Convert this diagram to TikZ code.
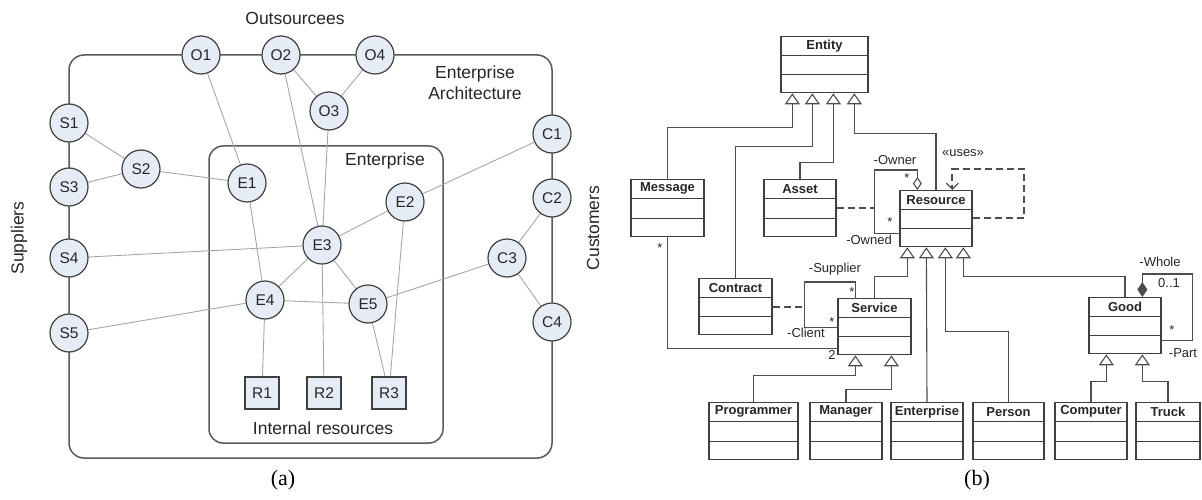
\documentclass[tikz,border=0pt]{standalone}
\usepackage{fontspec}
\setmainfont{Liberation Sans}
\newfontfamily\capfont{Liberation Serif}
\usetikzlibrary{arrows.meta,calc,backgrounds}
\definecolor{nodefill}{HTML}{E5ECF6}
\definecolor{nodeborder}{HTML}{3F3F3F}
\definecolor{framecol}{HTML}{595959}
\definecolor{linkcol}{HTML}{A6A6A6}
\definecolor{umlline}{HTML}{4D4D4D}
\definecolor{clsborder}{HTML}{404040}
\definecolor{textcol}{HTML}{262626}
\tikzset{
  ent/.style={circle, draw=nodeborder, fill=nodefill, line width=1.2pt, minimum size=38pt, inner sep=0pt, text=textcol, font=\fontsize{15.5}{16}\selectfont},
  resbox/.style={rectangle, draw=nodeborder, fill=nodefill, line width=1.2pt, minimum width=34pt, minimum height=32pt, inner sep=0pt, text=textcol, font=\fontsize{15.5}{16}\selectfont},
  frame/.style={draw=framecol, line width=1.5pt, rounded corners=15pt},
  link/.style={draw=linkcol, line width=0.9pt},
  biglabel/.style={font=\fontsize{17.5}{21}\selectfont, text=textcol, align=center, inner sep=0pt},
  cls/.style={draw=clsborder, line width=1.3pt, fill=white, inner sep=0pt},
  clstitle/.style={font=\bfseries\fontsize{13}{14}\selectfont, text=textcol, inner sep=0pt},
  compline/.style={draw=clsborder, line width=1.1pt},
  uline/.style={draw=umlline, line width=1.1pt},
  gen/.style={uline, -{Triangle[open, length=11pt, width=15pt, line width=1.1pt]}},
  dep/.style={draw=umlline, line width=2pt, dash pattern=on 7pt off 4pt},
  role/.style={font=\fontsize{13}{14}\selectfont, text=textcol, inner sep=0pt},
  caplabel/.style={font=\capfont\fontsize{22}{24}\selectfont, text=black, inner sep=0pt}
}
\newcommand\umlclass[6]{%
  \node[cls, minimum width=#4pt, minimum height=#5pt, anchor=north] (#1) at (#2,#3) {};
  \node[clstitle] at ($(#1.north)+(0,9.8)$) {#6};
  \draw[compline] ($(#1.north west)!0.34!(#1.south west)$) -- ($(#1.north east)!0.34!(#1.south east)$);
  \draw[compline] ($(#1.north west)!0.67!(#1.south west)$) -- ($(#1.north east)!0.67!(#1.south east)$);
}
\begin{document}
\begin{tikzpicture}[x=1pt,y=-1pt]
\useasboundingbox (0,0) rectangle (1202,500);

% ---------------- (a) ----------------
\node[ent] (O1) at (201,55) {O1};
\node[ent] (O2) at (281,55) {O2};
\node[ent] (O4) at (375,55) {O4};
\node[ent] (O3) at (329,111) {O3};
\node[ent] (S1) at (69,123) {S1};
\node[ent] (S2) at (141,169) {S2};
\node[ent] (S3) at (69,187) {S3};
\node[ent] (S4) at (69,258) {S4};
\node[ent] (S5) at (69,333) {S5};
\node[ent] (E1) at (247,183) {E1};
\node[ent] (E2) at (405,202) {E2};
\node[ent] (E3) at (322,245) {E3};
\node[ent] (E4) at (265,300) {E4};
\node[ent] (E5) at (368,304) {E5};
\node[ent] (C1) at (552,134) {C1};
\node[ent] (C2) at (552,198) {C2};
\node[ent] (C3) at (507,258) {C3};
\node[ent] (C4) at (552,322) {C4};
\node[resbox] (R1) at (262,393) {R1};
\node[resbox] (R2) at (324,393) {R2};
\node[resbox] (R3) at (389,393) {R3};

\node[biglabel] (lOut) at (295,18) {Outsourcees};
\node[biglabel] (lEA) at (475,82.5) {Enterprise\\Architecture};
\node[biglabel] (lEnt) at (385,161) {Enterprise};
\node[biglabel] (lInt) at (323,428) {Internal resources};
\node[biglabel, rotate=90] (lSup) at (19,238) {Suppliers};
\node[biglabel, rotate=90] (lCus) at (593,228) {Customers};
\node[caplabel] (capa) at (283,480) {(a)};

\begin{pgfonlayer}{background}
\draw[frame] (69,55) rectangle (552,458);
\draw[frame, rounded corners=14pt] (209,146) rectangle (443,443);
\draw[link] (S1) -- (S2);
\draw[link] (S3) -- (S2);
\draw[link] (S2) -- (E1);
\draw[link] (O1) -- (E1);
\draw[link] (O2) -- (E3);
\draw[link] (O2) -- (O3);
\draw[link] (O4) -- (O3);
\draw[link] (O3) -- (E3);
\draw[link] (C1) -- (E2);
\draw[link] (E2) -- (E3);
\draw[link] (E2) -- (R3);
\draw[link] (S4) -- (E3);
\draw[link] (E1) -- (E4);
\draw[link] (E3) -- (E4);
\draw[link] (E3) -- (E5);
\draw[link] (E3) -- (R2);
\draw[link] (S5) -- (E4);
\draw[link] (E4) -- (E5);
\draw[link] (E4) -- (R1);
\draw[link] (C3) -- (E5);
\draw[link] (C2) -- (C3);
\draw[link] (C3) -- (C4);
\draw[link] (E5) -- (R3);
\end{pgfonlayer}

% ---------------- (b) ----------------
\umlclass{cEntity}{824.5}{36}{87}{56}{Entity}
\umlclass{cMessage}{667.5}{179}{73}{57}{Message}
\umlclass{cAsset}{800}{179}{72}{57}{Asset}
\umlclass{cResource}{936}{190}{72}{56}{Resource}
\umlclass{cContract}{735.5}{278}{73}{56}{Contract}
\umlclass{cService}{874.5}{298}{73}{56}{Service}
\umlclass{cGood}{1125}{297}{72}{56}{Good}
\umlclass{cProgrammer}{753.5}{402}{89}{57}{Programmer}
\umlclass{cManager}{846}{402}{72}{57}{Manager}
\umlclass{cEnterprise}{927}{402}{72}{57}{Enterprise}
\umlclass{cPerson}{1008.5}{402}{71}{57}{Person}
\umlclass{cComputer}{1091}{402}{72}{57}{Computer}
\umlclass{cTruck}{1168}{402}{64}{57}{Truck}

% generalizations to Entity
\draw[gen] (cMessage.north) |- ($(cEntity.south west)+(12,34)$) -- ($(cEntity.south west)+(12,0)$);
\draw[gen] (cContract.north) |- ($(cEntity.south west)+(32,53)$) -- ($(cEntity.south west)+(32,0)$);
\draw[gen] (cAsset.north) |- ($(cEntity.south west)+(53,69)$) -- ($(cEntity.south west)+(53,0)$);
\draw[gen] (cResource.north) |- ($(cEntity.south west)+(74,40)$) -- ($(cEntity.south west)+(74,0)$);
% generalizations to Resource
\draw[gen] (cService.north) |- ($(cResource.south west)+(8,29)$) -- ($(cResource.south west)+(8,0)$);
\draw[gen] (cEnterprise.north) -- ($(cResource.south west)+(27,0)$);
\draw[gen] (cPerson.north) |- ($(cResource.south west)+(46,84)$) -- ($(cResource.south west)+(46,0)$);
\draw[gen] (cGood.north) |- ($(cResource.south west)+(64,29)$) -- ($(cResource.south west)+(64,0)$);
% generalizations to Service
\draw[gen] (cProgrammer.north) |- ($(cService.south west)+(18,20)$) -- ($(cService.south west)+(18,0)$);
\draw[gen] (cManager.north) |- ($(cService.south west)+(54,34)$) -- ($(cService.south west)+(54,0)$);
% generalizations to Good
\draw[gen] (cComputer.north) |- ($(cGood.south west)+(18,27)$) -- ($(cGood.south west)+(18,0)$);
\draw[gen] (cTruck.north) |- ($(cGood.south west)+(54,27)$) -- ($(cGood.south west)+(54,0)$);

% Owner / Owned aggregation
\coordinate (ownTop) at ($(cResource.north west)+(18,-20)$);
\coordinate (ownLeft) at ($(cResource.south west)+(-25,-14)$);
\draw[uline, {Diamond[open, length=13pt, width=9pt, line width=1.1pt]}-] ($(cResource.north west)+(18,0)$) -- (ownTop) -| (ownLeft) -- ($(cResource.south west)+(0,-14)$);
\draw[dep] (cAsset.east) -- (cAsset.east -| ownLeft);
\node[role] (rOwner) at (895,160) {-Owner};
\node[role] (rOwnerM) at (907,178) {*};
\node[role] (rOwnedM) at (890,222) {*};
\node[role] (rOwned) at (869,240) {-Owned};

% uses dependency
\coordinate (useR) at ($(cResource.north east)+(51,28)$);
\coordinate (useT) at ($(cResource.north west)+(53,-21)$);
\draw[dep, -{Straight Barb[length=6pt, width=12pt, line width=1.2pt]}] ($(cResource.north east)+(0,28)$) -- (useR) |- (useT) -- ($(cResource.north west)+(53,0)$);
\node[role] (rUses) at (963,153) {«uses»};

% Supplier / Client
\coordinate (svTop) at ($(cService.north west)+(18,-16)$);
\coordinate (svLeft) at ($(cService.south west)+(-33,-28)$);
\draw[uline] ($(cService.north west)+(18,0)$) -- (svTop) -| (svLeft) -- ($(cService.south west)+(0,-28)$);
\draw[dep] (cContract.east) -- (cContract.east -| svLeft);
\node[role] (rSup) at (835,269) {-Supplier};
\node[role] (rSupM) at (852,292) {*};
\node[role] (rCliM) at (832,322) {*};
\node[role] (rCli) at (806,333) {-Client};

% Message - Service
\draw[uline] (cMessage.south) |- ($(cService.south west)+(0,-7)$);
\node[role] (rMsgM) at (660,248) {*};
\node[role] (rMsg2) at (832,355) {2};

% Good composition
\coordinate (gdTop) at ($(cGood.north west)+(54,-23)$);
\coordinate (gdRight) at ($(cGood.south east)+(31,-14)$);
\draw[uline, {Diamond[length=15pt, width=10pt, line width=1.1pt]}-] ($(cGood.north west)+(54,0)$) -- (gdTop) -| (gdRight) -- ($(cGood.south east)+(0,-14)$);
\node[role] (rWhole) at (1160,262) {-Whole};
\node[role] (rWholeM) at (1169,283) {0..1};
\node[role] (rPartM) at (1172,330) {*};
\node[role] (rPart) at (1183,353) {-Part};

\node[caplabel] (capb) at (977,480) {(b)};
\end{tikzpicture}
\end{document}
